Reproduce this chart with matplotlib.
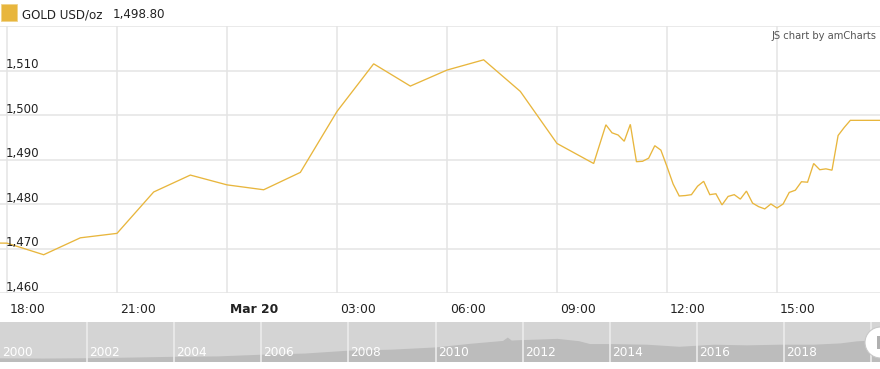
import matplotlib
matplotlib.use("Agg")
import matplotlib.pyplot as plt
from matplotlib.patches import Rectangle, Circle

# ---- data ----
# minutes after 18:00 (Mar 19)
minutes = [-60, 0, 60, 120, 180, 240, 300, 360, 420, 480, 540, 600, 660, 720, 780,
           840, 900, 960, 980, 990, 1000, 1010, 1020, 1030, 1040, 1050, 1060, 1070,
           1080, 1090, 1100, 1110, 1120, 1130, 1140, 1150, 1160, 1170, 1180, 1190,
           1200, 1210, 1220, 1230, 1240, 1250, 1260, 1270, 1280, 1290, 1300, 1310,
           1320, 1330, 1340, 1350, 1360, 1370, 1380, 1440]
prices = [1471.3, 1471.2, 1468.6, 1472.4, 1473.4, 1482.7, 1486.5, 1484.3, 1483.2,
          1487.1, 1500.8, 1511.5, 1506.5, 1510.1, 1512.4, 1505.3, 1493.6, 1489.1,
          1497.8, 1496.0, 1495.5, 1494.1, 1497.9, 1489.5, 1489.6, 1490.3, 1493.1,
          1492.1, 1488.4, 1484.5, 1481.8, 1481.9, 1482.1, 1484.0, 1485.1, 1482.1,
          1482.3, 1479.8, 1481.7, 1482.1, 1481.1, 1482.9, 1480.2, 1479.4, 1478.9,
          1480.0, 1479.1, 1480.0, 1482.6, 1483.1, 1485.0, 1484.9, 1489.1, 1487.7,
          1487.9, 1487.6, 1495.4, 1497.2, 1498.8, 1498.8]

x_tick_pos = [0, 180, 360, 540, 720, 900, 1080, 1260]
x_tick_labels = ["18:00", "21:00", "Mar 20", "03:00", "06:00", "09:00", "12:00", "15:00"]
y_ticks = [1460, 1470, 1480, 1490, 1500, 1510]
y_tick_labels = ["1,460", "1,470", "1,480", "1,490", "1,500", "1,510"]

series_name = "GOLD USD/oz"
last_value_label = "1,498.80"

nav_years = [2000, 2001, 2002, 2003, 2004, 2005, 2006, 2007, 2008, 2009, 2010,
             2010.8, 2011.55, 2011.66, 2011.75, 2011.94, 2012.4, 2012.8, 2013.3,
             2013.55, 2014.0, 2014.86, 2015.6, 2016.4, 2017.15, 2017.9, 2018.67,
             2019.3, 2019.68, 2020.3]
nav_prices = [280, 265, 290, 340, 400, 430, 560, 650, 870, 950, 1120,
              1400, 1620, 1880, 1650, 1680, 1730, 1780, 1600,
              1380, 1380, 1330, 1170, 1330, 1280, 1330, 1330,
              1430, 1590, 1690]
nav_label_years = [2000, 2002, 2004, 2006, 2008, 2010, 2012, 2014, 2016, 2018]

GOLD = "#e8b63d"
GRID = "#e4e4e4"
W, H = 880, 369

plt.rcParams['font.family'] = ['DejaVu Sans']

fig = plt.figure(figsize=(W / 100, H / 100), dpi=100)

# ---- main axes ----
top_px, bot_px = 26, 293
ax = fig.add_axes([0, 1 - bot_px / H, 1, (bot_px - top_px) / H])
px_per_min = 110 / 180
ax.set_xlim(-7 / px_per_min, 873 / px_per_min)
ax.set_ylim(1460, 1520)
for s in ax.spines.values():
    s.set_visible(False)
ax.set_xticks(x_tick_pos)
ax.set_yticks(y_ticks + [1520])
ax.tick_params(length=0, labelbottom=False, labelleft=False)
ax.grid(True, color=GRID, lw=1.1)
ax.set_axisbelow(True)

ax.plot(minutes, prices, color=GOLD, lw=0.95, solid_joinstyle='miter')

for v, lab in zip(y_ticks, y_tick_labels):
    ax.annotate(lab, xy=(6 / W, v), xycoords=('axes fraction', 'data'),
                xytext=(0, 1.5), textcoords='offset points',
                ha='left', va='baseline', fontsize=8.5, color='#222222')

for p, lab in zip(x_tick_pos, x_tick_labels):
    bold = lab.startswith("Mar")
    ax.annotate(lab, xy=(p, 0), xycoords=('data', 'axes fraction'),
                xytext=(2.2, -14.4), textcoords='offset points',
                ha='left', va='baseline', fontsize=8.9, color='#222222',
                fontweight='bold' if bold else 'normal')

# ---- legend / title ----
fig.add_artist(Rectangle((1 / W, 1 - 21 / H), 16 / W, 17 / H, transform=fig.transFigure,
                         facecolor=GOLD, edgecolor='#f0d48a', lw=0.6))
fig.text(22 / W, 1 - 18 / H, series_name, fontsize=8.6, color='#222222',
         ha='left', va='baseline')
fig.text(113 / W, 1 - 18 / H, last_value_label, fontsize=8.6, color='#222222',
         ha='left', va='baseline')
fig.text(876 / W, 1 - 39 / H, "JS chart by amCharts", fontsize=7.2, color='#555555',
         ha='right', va='baseline')

# ---- navigator ----
nav_top, nav_bot = 321.5, 362
nav = fig.add_axes([0, 1 - nav_bot / H, 1, (nav_bot - nav_top) / H])
nav.set_facecolor('#d4d4d4')
nav.set_xlim(2000, 2000 + 880 / 43.55)
nav.set_ylim(0, 3115)
for s in nav.spines.values():
    s.set_visible(False)
nav.set_xticks([])
nav.set_yticks([])
nav.fill_between(nav_years, nav_prices, 0, color='#bcbcbc', lw=0)
for yr in range(2002, 2022, 2):
    nav.axvline(yr, color='#ececec', lw=1.2)
for yr in nav_label_years:
    nav.annotate(str(yr), xy=(yr, 0), xycoords='data', xytext=(1.6, 4.5),
                 textcoords='offset points', ha='left', va='baseline',
                 fontsize=8.7, color='white')

# scrollbar handle
fig.add_artist(Circle((880.5 / 100, (H - 342.5) / 100), 0.155, transform=fig.dpi_scale_trans,
                      facecolor='white', edgecolor='#c8c8c8', lw=0.8))
fig.add_artist(Rectangle((877 / W, 1 - 349 / H), 3 / W, 13 / H, transform=fig.transFigure,
                         facecolor='#b0b0b0', edgecolor='none'))

fig.savefig("out.png", dpi=100)
